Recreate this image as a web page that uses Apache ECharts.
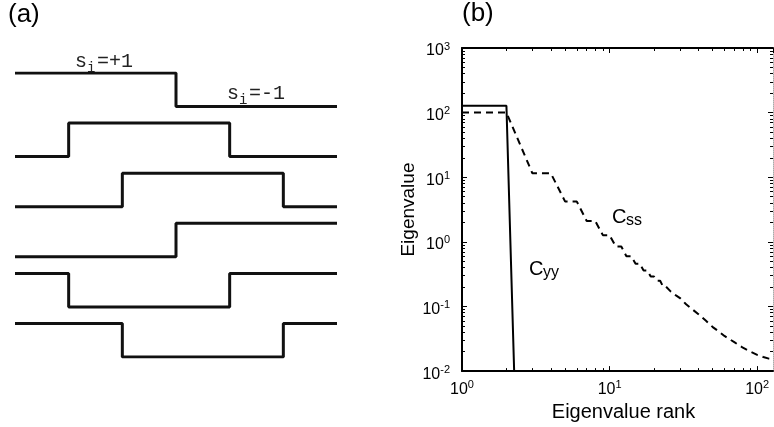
<!DOCTYPE html>
<html><head><meta charset="utf-8">
<script src="https://cdn.jsdelivr.net/npm/echarts@6/dist/echarts.min.js"></script>
<style>html,body{margin:0;padding:0;background:#fff}#c{width:774px;height:427px}</style>
</head><body><div id="c"></div>
<script>
// ---- Panel (a): six switching patterns s_i over six equal segments ----
const segmentEdges = [0, 1, 2, 3, 4, 5, 6];
const switchPatterns = [
  [ 1,  1,  1, -1, -1, -1],
  [-1,  1,  1,  1, -1, -1],
  [-1, -1,  1,  1,  1, -1],
  [-1, -1, -1,  1,  1,  1],
  [ 1, -1, -1, -1,  1,  1],
  [ 1,  1, -1, -1, -1,  1]
];
const rowSpacing = 3;

// ---- Panel (b): eigenvalue spectra ----
const cyyRank  = [1, 2, 3];
const cyyValue = [128, 128, 2e-12];
const cssRank  = [1, 2, 3, 4, 5, 6, 7, 8, 9, 10, 11, 12, 13, 14, 15, 16, 17, 18, 19, 20, 21, 22, 23, 24,
                  26, 28, 30, 33, 36, 40, 45, 50, 55, 60, 70, 80, 90, 100, 110, 120, 128];
const cssValue = [100, 100, 11.5, 11.5, 4.2, 4.2, 2.1, 2.1, 1.27, 1.27, 0.85, 0.85, 0.6, 0.6, 0.46, 0.46,
                  0.36, 0.36, 0.29, 0.29, 0.25, 0.25, 0.205, 0.205,
                  0.17, 0.15, 0.135, 0.108, 0.092, 0.076, 0.06, 0.048, 0.041, 0.035, 0.028, 0.023, 0.02,
                  0.0178, 0.0165, 0.0156, 0.0152];
const xMinorTicks = [2, 3, 4, 5, 6, 7, 8, 9, 20, 30, 40, 50, 60, 70, 80, 90];
const yMinorTicks = [0.02, 0.03, 0.04, 0.05, 0.06, 0.07, 0.08, 0.09, 0.2, 0.3, 0.4, 0.5, 0.6, 0.7, 0.8, 0.9,
                     2, 3, 4, 5, 6, 7, 8, 9, 20, 30, 40, 50, 60, 70, 80, 90, 200, 300, 400, 500, 600, 700, 800, 900];

const FONT = '"Liberation Sans", Arial, Helvetica, sans-serif';
const MONO = '"Liberation Mono", "Courier New", monospace';
const expLabel = v => '{b|10}{s|' + Math.round(Math.log10(v)) + '}';
const labelRich = {
  b: { fontSize: 16, lineHeight: 20, fontFamily: FONT, color: '#000' },
  s: { fontSize: 11, lineHeight: 6, verticalAlign: 'top', fontFamily: FONT, color: '#000' }
};
const axisLineStyle = { color: '#000', width: 2 };

function logAxis(dim, pos, opts) {
  const base = {
    type: 'log', logBase: 10, gridIndex: 1, position: pos,
    min: dim === 'x' ? 1 : 0.01, max: dim === 'x' ? 128 : 1000,
    splitLine: { show: false },
    axisLine: { show: true, lineStyle: axisLineStyle },
    axisTick: { show: true, inside: true, length: 5, lineStyle: { color: '#000', width: 1 } },
    axisLabel: { show: false }
  };
  return Object.assign(base, opts || {});
}
function minorAxis(dim, pos) {
  return logAxis(dim, pos, {
    axisLine: { show: false },
    axisTick: { show: true, inside: true, length: 3, lineStyle: { color: '#000', width: 1 },
                customValues: dim === 'x' ? xMinorTicks : yMinorTicks }
  });
}

const stepSeries = switchPatterns.map((pat, r) => ({
  type: 'line', xAxisIndex: 0, yAxisIndex: 0, step: 'end', symbol: 'none',
  lineStyle: { color: '#111', width: 3 },
  data: segmentEdges.map((x, i) => [x, pat[Math.min(i, pat.length - 1)] - rowSpacing * r])
}));

function txt(x, y, s, font, color) {
  return { type: 'text', x: x, y: y, style: { text: s, font: font, fill: color || '#000', verticalAlign: 'top' } };
}

const option = {
  animation: false,
  backgroundColor: '#fff',
  grid: [
    { left: 15, top: 73, width: 322, height: 284 },
    { left: 462, top: 48, width: 311, height: 325 }
  ],
  xAxis: [
    { gridIndex: 0, type: 'value', min: 0, max: 6, show: false },
    logAxis('x', 'bottom', {
      axisLabel: { show: true, formatter: expLabel, rich: labelRich, fontSize: 16, margin: 2, padding: [6, 0, 0, 0], showMaxLabel: false },
      name: 'Eigenvalue rank', nameLocation: 'middle', nameGap: 30,
      nameTextStyle: { fontSize: 20, fontFamily: FONT, color: '#000', padding: [0, 0, 0, 12] }
    }),
    logAxis('x', 'top'),
    minorAxis('x', 'bottom'),
    minorAxis('x', 'top')
  ],
  yAxis: [
    { gridIndex: 0, type: 'value', min: -16, max: 1, show: false },
    logAxis('y', 'left', {
      axisLabel: { show: true, formatter: expLabel, rich: labelRich, fontSize: 16, margin: 12, padding: [6, 0, 0, 0] },
      name: 'Eigenvalue', nameLocation: 'middle', nameGap: 42,
      nameTextStyle: { fontSize: 19, fontFamily: FONT, color: '#000' }
    }),
    logAxis('y', 'right', { axisLine: { show: true, lineStyle: { color: '#aaa', width: 1, type: 'dotted' } } }),
    minorAxis('y', 'left'),
    minorAxis('y', 'right')
  ],
  series: stepSeries.concat([
    {
      name: 'Cyy', type: 'line', xAxisIndex: 1, yAxisIndex: 1, symbol: 'none',
      lineStyle: { color: '#000', width: 2 },
      data: cyyRank.map((r, i) => [r, cyyValue[i]])
    },
    {
      name: 'Css', type: 'line', xAxisIndex: 1, yAxisIndex: 1, symbol: 'none',
      lineStyle: { color: '#000', width: 2, type: [7, 5] },
      data: cssRank.map((r, i) => [r, cssValue[i]])
    }
  ]),
  graphic: [
    txt(8, 2, '(a)', '26px ' + FONT),
    txt(462, 1, '(b)', '26px ' + FONT),
    // s_i = +1
    txt(75, 52, 's', '20px ' + MONO, '#222'),
    txt(87, 61, 'i', '14px ' + MONO, '#222'),
    txt(97, 52, '=+1', '20px ' + MONO, '#222'),
    // s_i = -1
    txt(227, 84, 's', '20px ' + MONO, '#222'),
    txt(239, 93, 'i', '14px ' + MONO, '#222'),
    txt(249, 84, '=-1', '20px ' + MONO, '#222'),
    // C_yy
    txt(529, 259, 'C', '20px ' + FONT),
    txt(543, 265, 'yy', '16px ' + FONT),
    // C_ss
    txt(612, 207, 'C', '20px ' + FONT),
    txt(626, 213, 'ss', '16px ' + FONT)
  ]
};

const chart = echarts.init(document.getElementById('c'), null, { renderer: 'canvas' });
chart.setOption(option);
</script>
</body></html>
